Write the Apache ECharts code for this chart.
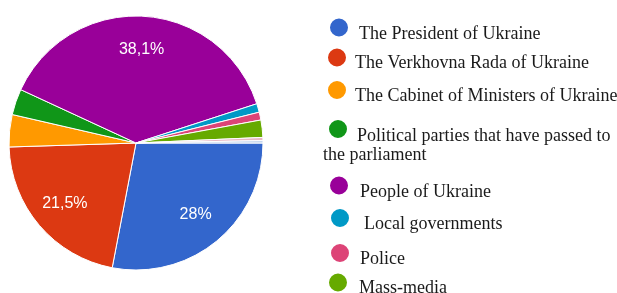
<!DOCTYPE html>
<html><head><meta charset="utf-8">
<script src="https://cdn.jsdelivr.net/npm/echarts@6/dist/echarts.min.js"></script>
<style>html,body{margin:0;padding:0;background:#fff}#c{width:617px;height:293px}</style>
</head><body><div id="c"></div>
<script>
const categories = ['The President of Ukraine','The Verkhovna Rada of Ukraine','The Cabinet of Ministers of Ukraine','Political parties that have passed to the parliament','People of Ukraine','Local governments','Police','Mass-media','Other','Other (2)'];
const shares = [28, 21.5, 4.1, 3.3, 38.1, 1.1, 1.0, 2.2, 0.4, 0.3];
const sliceLabels = ['28%', '21,5%', '', '', '38,1%', '', '', '', '', ''];
const legendFirstLines = ['The President of Ukraine','The Verkhovna Rada of Ukraine','The Cabinet of Ministers of Ukraine','Political parties that have passed to','People of Ukraine','Local governments','Police','Mass-media'];
const legendContinuation = 'the parliament';
const colors = ['#3366cc','#dc3912','#ff9900','#109618','#990099','#0099c6','#dd4477','#66aa00','#e9b8c4','#bcd0ec'];

// layout (positions) kept separate from data
const legendLayout = [
  {left:328, iconTop:12, padL:5, shift:11},
  {left:326, iconTop:43, padL:3, shift:9},
  {left:326, iconTop:75, padL:3, shift:10},
  {left:327, iconTop:113, padL:4, shift:12},
  {left:328, iconTop:170, padL:6, shift:11},
  {left:329, iconTop:203, padL:9, shift:10},
  {left:329, iconTop:238, padL:5, shift:10},
  {left:327, iconTop:268, padL:6, shift:9}
];
const serif = '"Liberation Serif","Times New Roman",serif';

const pieData = categories.map((n, i) => ({name: n, value: shares[i], itemStyle: {color: colors[i]}}));
const labelData = categories.map((n, i) => ({name: n, value: shares[i], label: {formatter: sliceLabels[i]}}));

const legends = legendLayout.map((L, i) => ({
  data: [categories[i]],
  left: L.left,
  top: L.iconTop,
  padding: 0,
  icon: 'circle',
  itemWidth: 20,
  itemHeight: 20,
  selectedMode: false,
  formatter: () => '{t|' + legendFirstLines[i] + '}',
  textStyle: {
    fontFamily: serif,
    fontSize: 18,
    color: '#1a1a1a',
    rich: {
      t: {fontFamily: serif, fontSize: 18, color: '#1a1a1a', lineHeight: 20, padding: [L.shift + 2, 0, 0, L.padL]}
    }
  }
}));

const chart = echarts.init(document.getElementById('c'), null, {renderer: 'canvas'});
chart.setOption({
  animation: false,
  backgroundColor: '#fff',
  legend: legends,
  graphic: [{
    type: 'text',
    left: 323,
    top: 146,
    style: {text: legendContinuation, font: '18px ' + serif, fill: '#1a1a1a'}
  }],
  series: [
    {
      type: 'pie',
      center: [136, 143],
      radius: [0, 127],
      startAngle: 0,
      clockwise: true,
      avoidLabelOverlap: false,
      label: {show: false},
      labelLine: {show: false},
      itemStyle: {borderColor: '#fff', borderWidth: 1},
      emphasis: {disabled: true},
      data: pieData
    },
    {
      type: 'pie',
      center: [136, 143],
      radius: [54, 127],
      startAngle: 0,
      clockwise: true,
      silent: true,
      z: 3,
      avoidLabelOverlap: false,
      itemStyle: {color: 'rgba(0,0,0,0)', borderWidth: 0},
      label: {show: true, position: 'inside', color: '#fff', fontSize: 16, fontFamily: '"Liberation Sans", Arial, sans-serif'},
      labelLine: {show: false},
      emphasis: {disabled: true},
      data: labelData
    }
  ]
});
</script>
</body></html>
